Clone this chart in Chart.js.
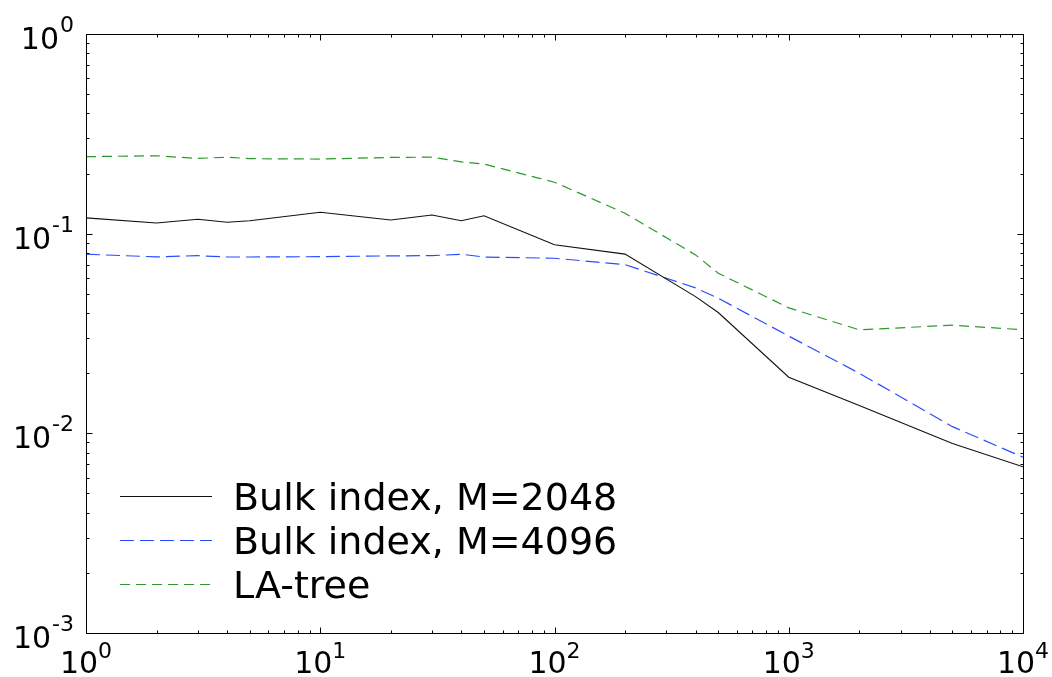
<!DOCTYPE html>
<html>
<head>
<meta charset="utf-8">
<script src="https://cdn.jsdelivr.net/npm/chart.js@4/dist/chart.umd.min.js"></script>
<style>
  html, body { margin: 0; padding: 0; background: #fff; }
  #wrap { width: 1052px; height: 677px; }
</style>
</head>
<body>
<div id="wrap"><canvas id="c" width="1052" height="677"></canvas></div>
<script>
// ---- data ----
const xValues   = [1, 2, 3, 4, 5, 10, 20, 30, 40, 50, 100, 200, 400, 500, 1000, 2000, 5000, 10000];
const bulk2048  = [0.120, 0.113, 0.118, 0.114, 0.116, 0.128, 0.117, 0.124, 0.116, 0.123, 0.088, 0.079, 0.0484, 0.0403, 0.0191, 0.0138, 0.0089, 0.0068];
const bulk4096  = [0.0789, 0.0765, 0.0776, 0.0764, 0.0764, 0.0767, 0.0774, 0.0776, 0.0789, 0.0764, 0.0753, 0.0700, 0.0535, 0.0475, 0.0307, 0.0200, 0.0108, 0.0076];
const laTree    = [0.243, 0.2455, 0.238, 0.2417, 0.2375, 0.2364, 0.241, 0.2417, 0.229, 0.2232, 0.181, 0.1265, 0.0783, 0.0634, 0.0425, 0.0330, 0.0348, 0.0330];
const seriesLabels = ['Bulk index, M=2048', 'Bulk index, M=4096', 'LA-tree'];
const xTickExponents = [0, 1, 2, 3, 4];
const yTickExponents = [-3, -2, -1, 0];

const toPoints = arr => xValues.map((x, i) => ({ x: x, y: arr[i] }));

const FONT = '"DejaVu Sans", "Liberation Sans", sans-serif';

const styles = [
  { color: '#111111', dash: [], width: 1.1 },
  { color: '#2a4cff', dash: [14, 6], width: 1.2 },
  { color: '#2a9a2a', dash: [10, 6], width: 1.2 }
];

const axesPlugin = {
  id: 'mplAxes',
  afterDraw(chart) {
    const ctx = chart.ctx;
    const { left, right, top, bottom } = chart.chartArea;
    const xs = chart.scales.x, ys = chart.scales.y;
    const L = Math.round(left) + 0.5, R = Math.round(right) + 0.5;
    const T = Math.round(top) + 0.5, B = Math.round(bottom) + 0.5;
    ctx.save();
    ctx.strokeStyle = '#000';
    ctx.lineWidth = 1;
    ctx.setLineDash([]);
    ctx.strokeRect(L, T, R - L, B - T);

    // x ticks (inward, top and bottom)
    ctx.beginPath();
    xTickExponents.forEach((e, idx) => {
      const px = Math.round(xs.getPixelForValue(Math.pow(10, e))) + 0.5;
      ctx.moveTo(px, B); ctx.lineTo(px, B - 6);
      ctx.moveTo(px, T); ctx.lineTo(px, T + 6);
      if (idx < xTickExponents.length - 1) {
        for (let k = 2; k <= 9; k++) {
          const m = Math.round(xs.getPixelForValue(k * Math.pow(10, e))) + 0.5;
          ctx.moveTo(m, B); ctx.lineTo(m, B - 3);
          ctx.moveTo(m, T); ctx.lineTo(m, T + 3);
        }
      }
    });
    // y ticks (inward, left and right)
    yTickExponents.forEach((e, idx) => {
      const py = Math.round(ys.getPixelForValue(Math.pow(10, e))) + 0.5;
      ctx.moveTo(L, py); ctx.lineTo(L + 6, py);
      ctx.moveTo(R, py); ctx.lineTo(R - 6, py);
      if (idx < yTickExponents.length - 1) {
        for (let k = 2; k <= 9; k++) {
          const m = Math.round(ys.getPixelForValue(k * Math.pow(10, e))) + 0.5;
          ctx.moveTo(L, m); ctx.lineTo(L + 3, m);
          ctx.moveTo(R, m); ctx.lineTo(R - 3, m);
        }
      }
    });
    ctx.stroke();

    // tick labels with superscript exponents
    ctx.fillStyle = '#000';
    ctx.textBaseline = 'alphabetic';
    const bigFont = '30px ' + FONT, smallFont = '22px ' + FONT;
    yTickExponents.forEach(e => {
      const py = ys.getPixelForValue(Math.pow(10, e));
      const exp = String(e);
      ctx.font = smallFont;
      const we = ctx.measureText(exp).width;
      ctx.textAlign = 'right';
      ctx.fillText(exp, 74, py - 2);
      ctx.font = bigFont;
      ctx.fillText('10', 74 - we - 1, py + 15);
    });
    xTickExponents.forEach(e => {
      const px = xs.getPixelForValue(Math.pow(10, e));
      const exp = String(e);
      ctx.font = bigFont;
      const wb = ctx.measureText('10').width;
      ctx.font = smallFont;
      const we = ctx.measureText(exp).width;
      const start = px - (wb + we) / 2;
      ctx.textAlign = 'left';
      ctx.font = bigFont;
      ctx.fillText('10', start, bottom + 40);
      ctx.font = smallFont;
      ctx.fillText(exp, start + wb, bottom + 25);
    });

    // legend inside the plot
    const legendYs = [496, 540, 584];
    chart.data.datasets.forEach((ds, i) => {
      const st = styles[i];
      ctx.beginPath();
      ctx.strokeStyle = st.color;
      ctx.lineWidth = st.width;
      ctx.setLineDash(st.dash);
      ctx.moveTo(120, legendYs[i] + 0.5);
      ctx.lineTo(212, legendYs[i] + 0.5);
      ctx.stroke();
      ctx.setLineDash([]);
      ctx.fillStyle = '#000';
      ctx.font = '38px ' + FONT;
      ctx.textAlign = 'left';
      ctx.fillText(ds.label, 233, legendYs[i] + 14);
    });
    ctx.restore();
  }
};

const datasets = [bulk2048, bulk4096, laTree].map((arr, i) => ({
  label: seriesLabels[i],
  data: toPoints(arr),
  borderColor: styles[i].color,
  borderWidth: styles[i].width,
  borderDash: styles[i].dash,
  pointRadius: 0,
  tension: 0,
  fill: false
}));

new Chart(document.getElementById('c'), {
  type: 'line',
  data: { datasets: datasets },
  options: {
    responsive: false,
    animation: false,
    layout: { padding: { left: 86, top: 34, right: 29, bottom: 44 } },
    plugins: { legend: { display: false }, tooltip: { enabled: false } },
    scales: {
      x: { type: 'logarithmic', min: 1, max: 10000, display: false },
      y: { type: 'logarithmic', min: 0.001, max: 1, display: false }
    }
  },
  plugins: [axesPlugin]
});
</script>
</body>
</html>
